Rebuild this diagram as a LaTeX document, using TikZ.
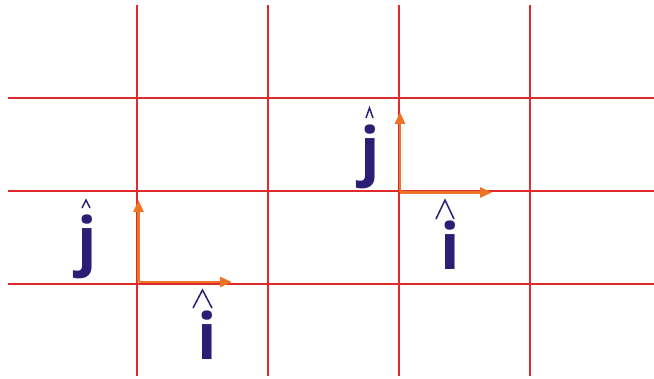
\documentclass[tikz,border=0pt]{standalone}
\usepackage{fontspec}
\setmainfont{Open Sans}
\usetikzlibrary{arrows.meta}
\definecolor{gridred}{HTML}{E12A2C}
\definecolor{vecorange}{HTML}{EC7424}
\definecolor{labelblue}{HTML}{2B1E74}
\tikzset{
  gridline/.style={draw=gridred, line width=2.7pt},
  vec/.style={draw=vecorange, line width=2.6pt, -{Triangle[length=12pt,width=10pt]}},
  lbl/.style={text=labelblue, inner sep=0pt, anchor=base, font=\fontsize{64}{64}\selectfont\bfseries},
  hat/.style={draw=labelblue, line width=1.5pt, line join=miter}
}
\begin{document}
\begin{tikzpicture}[x=1pt,y=-1pt]
\useasboundingbox (0,0) rectangle (654,379);
% grid
\foreach \x/\n in {137/a,268/b,399/c,530/d}{
  \coordinate (vt\n) at (\x,5);
  \coordinate (vb\n) at (\x,376);
  \draw[gridline] (vt\n) -- (vb\n);
}
\foreach \y/\n in {98/a,191/b,284/c}{
  \coordinate (hl\n) at (8,\y);
  \coordinate (hr\n) at (654,\y);
  \draw[gridline] (hl\n) -- (hr\n);
}
% basis vectors
\coordinate (o1) at (138.5,282);
\coordinate (x1) at (232,282);
\coordinate (y1) at (138.5,200);
\coordinate (o2) at (400,192.5);
\coordinate (x2) at (492,192.5);
\coordinate (y2) at (400,112);
\draw[vec] (o1) -- (x1);
\draw[vec] (o1) -- (y1);
\draw[vec] (o2) -- (x2);
\draw[vec] (o2) -- (y2);
% labels
\node[lbl] (j1) at (87,264) {j};
\node[lbl] (i1) at (207,360) {i};
\node[lbl] (j2) at (370,174) {j};
\node[lbl] (i2) at (450,270) {i};
% hats
\draw[hat] (82,208) -- (86,200) -- (90,208);
\draw[hat] (193,308) -- (202.5,290) -- (212,308);
\draw[hat] (366,118) -- (369.5,108) -- (373,118);
\draw[hat] (436,219) -- (445,200) -- (454,219);
\end{tikzpicture}
\end{document}
